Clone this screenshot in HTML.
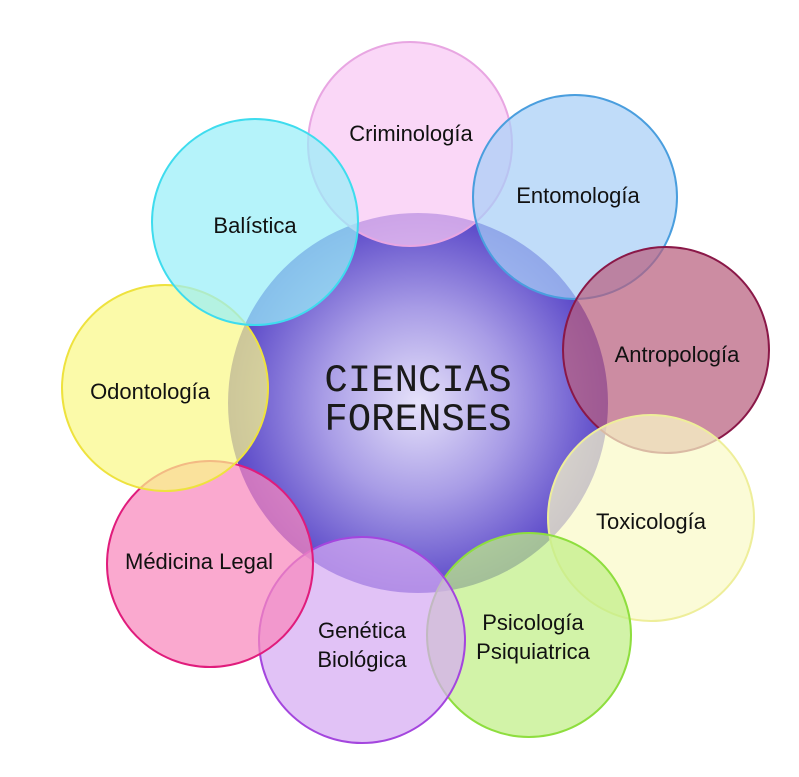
<!DOCTYPE html>
<html><head><meta charset="utf-8"><style>
html,body{margin:0;padding:0;background:#fff;}
svg{display:block}
text{font-family:"Liberation Sans",sans-serif;font-size:22px;fill:#111;text-anchor:middle}
.big{font-family:"Liberation Mono","DejaVu Sans Mono",monospace;font-size:39px;fill:#1a1a1a}
</style></head><body>
<svg width="799" height="777" viewBox="0 0 799 777" xmlns="http://www.w3.org/2000/svg">
<defs>
<radialGradient id="g" cx="50%" cy="50%" r="50%">
<stop offset="0" stop-color="#e6e2fa"/>
<stop offset="0.5" stop-color="#a89ce6"/>
<stop offset="1" stop-color="#5a48c8"/>
</radialGradient>
</defs>
<circle cx="418" cy="403" r="190" fill="url(#g)"/>
<g stroke-width="2" fill-opacity="0.72">
<circle cx="410" cy="144" r="102" fill="#f8c8f4" stroke="#e8a6e2"/>
<circle cx="575" cy="197" r="102" fill="#a8cff6" stroke="#4a9ede"/>
<circle cx="666" cy="350" r="103" fill="#b8607e" stroke="#8a1848"/>
<circle cx="651" cy="518" r="103" fill="#fafac8" stroke="#eeee9a"/>
<circle cx="529" cy="635" r="102" fill="#c0ee86" stroke="#8ede3e"/>
<circle cx="362" cy="640" r="103" fill="#d6aaf2" stroke="#a446de"/>
<circle cx="210" cy="564" r="103" fill="#f888bc" stroke="#e01c7c"/>
<circle cx="165" cy="388" r="103" fill="#faf888" stroke="#eee23e"/>
<circle cx="255" cy="222" r="103" fill="#98eef8" stroke="#3edcee"/>
</g>
<text x="411" y="141">Criminología</text>
<text x="578" y="203">Entomología</text>
<text x="677" y="362">Antropología</text>
<text x="651" y="529">Toxicología</text>
<text x="533" y="630">Psicología</text>
<text x="533" y="659">Psiquiatrica</text>
<text x="362" y="638">Genética</text>
<text x="362" y="667">Biológica</text>
<text x="199" y="569">Médicina Legal</text>
<text x="150" y="399">Odontología</text>
<text x="255" y="233">Balística</text>
<text class="big" x="418" y="391">CIENCIAS</text>
<text class="big" x="418" y="430">FORENSES</text>
</svg>
</body></html>
